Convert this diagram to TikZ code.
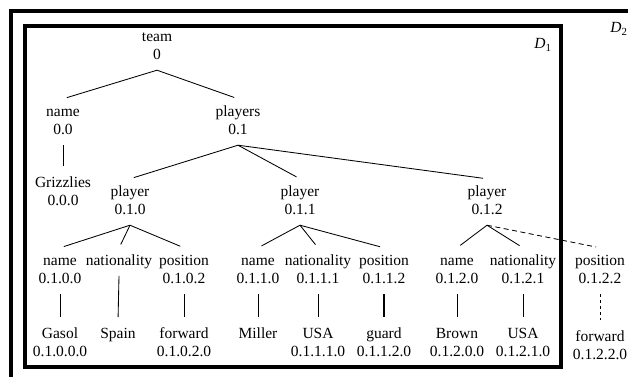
\documentclass[tikz,border=0pt]{standalone}
\usepackage{fontspec}
\setmainfont{Liberation Serif}

\newcommand{\twoline}[2]{\strut #1\\\strut #2}

\begin{document}
\begin{tikzpicture}[x=1pt, y=-1pt,
    lbl/.style={align=center, inner sep=4.5pt, font=\fontsize{15.5}{18.5}\selectfont},
    link/.style={line width=0.85pt, shorten >=4pt},
    box/.style={line width=3.2pt}]
    \useasboundingbox (0,0) rectangle (628,376);

    \begin{scope}
      \clip (0,0) rectangle (628,376);
      \draw[box] (11,11) rectangle (660,400);
    \end{scope}
    \draw[box] (25,26) rectangle (561,367);

    \node[lbl] (d1) at (543,45) {\textit{D}\textsubscript{1}};
    \node[lbl] (d2) at (619,29) {\textit{D}\textsubscript{2}};

    \node[lbl] (team) at (157,47) {\twoline{team}{0}};
    \node[lbl] (name0) at (63,122) {\twoline{name}{0.0}};
    \node[lbl] (players) at (238,122) {\twoline{players}{0.1}};
    \node[lbl] (grizzlies) at (63,193) {\twoline{Grizzlies}{0.0.0}};

    \node[lbl] (player0) at (130,202) {\twoline{player}{0.1.0}};
    \node[lbl] (player1) at (300,202) {\twoline{player}{0.1.1}};
    \node[lbl] (player2) at (487,202) {\twoline{player}{0.1.2}};

    \node[lbl] (name10) at (60,271) {\twoline{name}{0.1.0.0}};
    \node[lbl] (nat10) at (119,262) {\strut nationality};
    \node[lbl] (pos10) at (184,271) {\twoline{position}{0.1.0.2}};
    \node[lbl] (gasol) at (60,344) {\twoline{Gasol}{0.1.0.0.0}};
    \node[lbl] (spain) at (118,335) {\strut Spain};
    \node[lbl] (fwd10) at (184,344) {\twoline{forward}{0.1.0.2.0}};

    \node[lbl] (name11) at (258,271) {\twoline{name}{0.1.1.0}};
    \node[lbl] (nat11) at (318,271) {\twoline{nationality}{0.1.1.1}};
    \node[lbl] (pos11) at (384,271) {\twoline{position}{0.1.1.2}};
    \node[lbl] (miller) at (258,335) {\strut Miller};
    \node[lbl] (usa11) at (318,344) {\twoline{USA}{0.1.1.1.0}};
    \node[lbl] (guard) at (384,344) {\twoline{guard}{0.1.1.2.0}};

    \node[lbl] (name12) at (457,271) {\twoline{name}{0.1.2.0}};
    \node[lbl] (nat12) at (523,271) {\twoline{nationality}{0.1.2.1}};
    \node[lbl] (pos12) at (600,271) {\twoline{position}{0.1.2.2}};
    \node[lbl] (brown) at (457,344) {\twoline{Brown}{0.1.2.0.0}};
    \node[lbl] (usa12) at (523,344) {\twoline{USA}{0.1.2.1.0}};
    \node[lbl] (fwd12) at (600,347) {\twoline{forward}{0.1.2.2.0}};

    \draw[link]
    (team.south) edge (name0.north)
    (team.south) edge (players.north)
    (name0.south) edge (grizzlies.north)

    (players.south) edge (player0.north)
    (players.south) edge (player1.north)
    (players.south) edge (player2.north)

    (player0.south) edge (name10.north)
    (player0.south) edge (nat10.north)
    (player0.south) edge (pos10.north)
    (name10.south) edge (gasol.north)
    (nat10.south) edge (spain.north)
    (pos10.south) edge (fwd10.north)

    (player1.south) edge (name11.north)
    (player1.south) edge (nat11.north)
    (player1.south) edge (pos11.north)
    (name11.south) edge (miller.north)
    (nat11.south) edge (usa11.north)

    (player2.south) edge (name12.north)
    (player2.south) edge (nat12.north)
    (name12.south) edge (brown.north)
    (nat12.south) edge (usa12.north)
    ;

    \draw[link, line width=2.4pt] (pos11.south) edge (guard.north);

    \draw[link, dash pattern=on 5pt off 3.5pt]
    (player2.south) edge (pos12.north)
    ;
    \draw[link, dash pattern=on 3pt off 3pt]
    (pos12.south) edge (fwd12.north)
    ;

\end{tikzpicture}
\end{document}
